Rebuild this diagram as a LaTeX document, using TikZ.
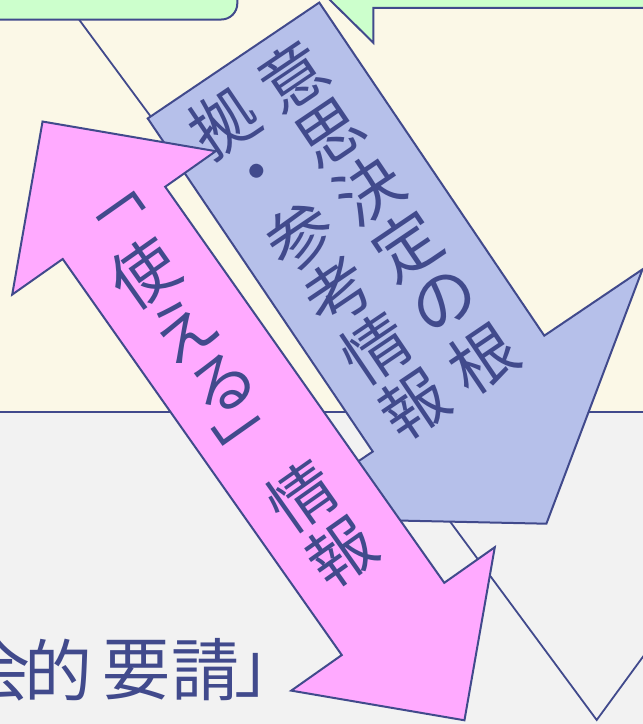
\documentclass[tikz,border=0pt]{standalone}
\usepackage{fontspec}
\newfontfamily\jp{Noto Sans CJK JP}
\definecolor{ink}{HTML}{414A8C}
\definecolor{cream}{HTML}{FBF8E7}
\definecolor{grayback}{HTML}{F2F2F2}
\definecolor{mint}{HTML}{CCFFCC}
\definecolor{bluefill}{HTML}{B6C0EA}
\definecolor{pinkfill}{HTML}{FFAAFF}
\begin{document}
\begin{tikzpicture}[x=0.5pt,y=-0.5pt,
  edge/.style={draw=ink,line width=1pt,line join=miter},
  glyph/.style={font=\jp\fontsize{33pt}{33pt}\selectfont, text=ink, inner sep=0pt, transform shape},
  plain/.style={font=\jp\fontsize{34pt}{34pt}\selectfont, text=ink, inner sep=0pt}]
\useasboundingbox (0,0) rectangle (643,724);
% backgrounds
\fill[cream] (0,0) rectangle (643,412);
\fill[grayback] (0,412) rectangle (643,724);
\draw[ink,line width=0.8pt] (0,411.7) -- (643,411.7);
% zigzag line
\coordinate (zA) at (79,19.5);
\coordinate (zB) at (596.7,720);
\coordinate (zC) at (650,647.1);
\draw[ink,line width=0.9pt] (zA) -- (zB) -- (zC);
% green box top left
\filldraw[fill=mint, edge, rounded corners=8pt] (-10,-40) -- (237.3,-40) -- (237.3,19.5) -- (-10,19.5);
% green callout top right
\fill[mint] (324.9,-5) -- (373.3,42.7) -- (373.3,7.8) -- (650,7.8) -- (650,-5) -- cycle;
\draw[edge] (324.9,-5) -- (373.3,42.7) -- (373.3,7.8) -- (650,7.8);
% blue arrow
\begin{scope}[shift={(233.5,60.5)}, rotate=34.04]
\filldraw[fill=bluefill, edge] (103.5,0) -- (103.5,402) -- (222,402) -- (0,559) -- (-222,402) -- (-103.5,402) -- (-103.5,0) -- cycle;
\foreach \c [count=\i from 0] in {意,思,決,定,の,根}
  \node[glyph] (ba\i) at (40,{46+68*\i}) {\c};
\foreach \c [count=\i from 0] in {拠,・,参,考,情,報}
  \node[glyph] (bb\i) at (-43,{46+68*\i}) {\c};
\end{scope}
% pink double arrow
\begin{scope}[shift={(253.5,420.9)}, rotate=35.17]
\filldraw[fill=pinkfill, edge] (0,-366.25) -- (124.5,-242.25) -- (62.7,-242.25) -- (62.7,242.25) -- (124.5,242.25) -- (0,366.25) -- (-124.5,242.25) -- (-62.7,242.25) -- (-62.7,-242.25) -- (-124.5,-242.25) -- cycle;
\node[glyph] (p0) at (4,-246) {﹁};
\node[glyph] (p1) at (-4,-183.7) {使};
\node[glyph] (p2) at (-4,-115.4) {え};
\node[glyph] (p3) at (-4,-47.1) {る};
\node[glyph] (p4) at (-8,10) {﹂};
\node[glyph] (p5) at (-4,89.5) {情};
\node[glyph] (p6) at (-4,157.8) {報};
\end{scope}
% bottom left text
\node[plain] (t0) at (-4,670) {会};
\node[plain] (t1) at (59,670) {的};
\node[plain] (t2) at (136,670) {要};
\node[plain] (t3) at (205,670) {請};
\node[plain] (t4) at (268,675) {」};
\end{tikzpicture}
\end{document}
